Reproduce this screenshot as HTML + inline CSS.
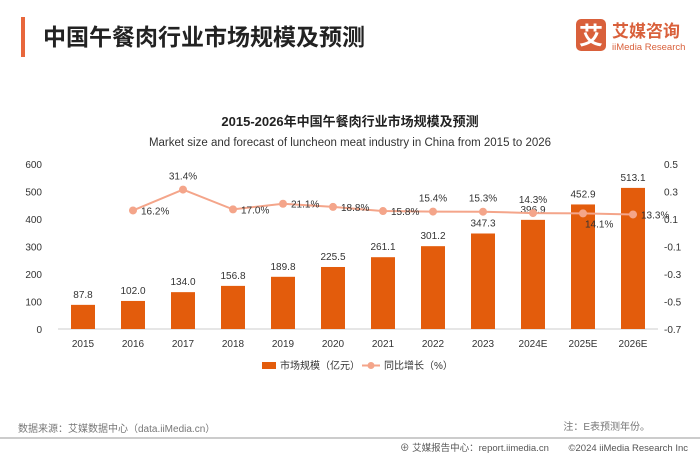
<!DOCTYPE html>
<html><head><meta charset="utf-8"><style>
body{margin:0;width:700px;height:455px;background:#fff;overflow:hidden;font-family:"Liberation Sans","Noto Sans CJK SC",sans-serif;}
</style></head><body>
<svg width="700" height="455" xmlns="http://www.w3.org/2000/svg" font-family="Liberation Sans, Noto Sans CJK SC, sans-serif">
<rect x="21" y="17" width="4" height="40" fill="#e8673c"/>
<text x="43" y="45" font-size="23" font-weight="bold" fill="#222">中国午餐肉行业市场规模及预测</text>
<g>
<rect x="576" y="19" width="30" height="32" rx="5" fill="#d9603b"/>
<text x="591" y="44" font-size="24" font-weight="bold" fill="#fff" text-anchor="middle">艾</text>
<text x="612" y="37" font-size="17" font-weight="bold" fill="#d9603b">艾媒咨询</text>
<text x="612" y="50" font-size="9.5" fill="#d9603b">iiMedia Research</text>
</g>
<text x="350" y="126" font-size="13" font-weight="bold" text-anchor="middle" fill="#222">2015-2026年中国午餐肉行业市场规模及预测</text>
<text x="350" y="146" font-size="11.5" text-anchor="middle" fill="#333">Market size and forecast of luncheon meat industry in China from 2015 to 2026</text>
<g id="chart"></g>
<g>
<rect x="262" y="362" width="14" height="7" fill="#e35c0c"/>
<text x="280" y="369" font-size="10" fill="#333">市场规模（亿元）</text>
<line x1="362" y1="365.5" x2="380" y2="365.5" stroke="#f4a58a" stroke-width="2"/>
<circle cx="371" cy="365.5" r="3.5" fill="#f4a58a"/>
<text x="384" y="369" font-size="10" fill="#333">同比增长（%）</text>
</g>
<text x="18" y="432" font-size="10" fill="#777">数据来源：艾媒数据中心（data.iiMedia.cn）</text>
<text x="650" y="430" font-size="10" fill="#777" text-anchor="end">注：E表预测年份。</text>
<line x1="0" y1="438" x2="700" y2="438" stroke="#999" stroke-width="1"/>
<text x="400" y="451" font-size="9.5" fill="#555">⊕ 艾媒报告中心：report.iimedia.cn</text>
<text x="688" y="451" font-size="9.5" fill="#555" text-anchor="end">©2024  iiMedia Research  Inc</text>
</svg>
<script>
const categories=["2015","2016","2017","2018","2019","2020","2021","2022","2023","2024E","2025E","2026E"];
const marketSize=[87.8,102.0,134.0,156.8,189.8,225.5,261.1,301.2,347.3,396.9,452.9,513.1];
const growth=[null,0.162,0.314,0.170,0.211,0.188,0.158,0.154,0.153,0.143,0.141,0.133];
const leftTicks=[0,100,200,300,400,500,600];
const rightTicks=[-0.7,-0.5,-0.3,-0.1,0.1,0.3,0.5];
const labelPlace=["","r","t","r","r","r","r","t","t","t","br","r"];
const NS="http://www.w3.org/2000/svg";
const chartG=document.getElementById('chart');
const plotTop=164,plotBot=329,x0=58,x1=658;
const yL=v=>plotBot-(v/600)*(plotBot-plotTop);
const yR=v=>plotBot-((v+0.7)/1.2)*(plotBot-plotTop);
const xC=i=>83+i*50;
function mk(t,a){const e=document.createElementNS(NS,t);for(const k in a)e.setAttribute(k,a[k]);chartG.appendChild(e);return e;}
let ax=mk('line',{x1:x0,y1:plotBot,x2:x1,y2:plotBot,stroke:'#ccc'});


leftTicks.forEach(v=>{let t=mk('text',{x:42,y:yL(v)+4,'font-size':10,'text-anchor':'end',fill:'#333'});t.textContent=v;

});
rightTicks.forEach(v=>{let t=mk('text',{x:664,y:yR(v)+4,'font-size':10,fill:'#333'});t.textContent=v.toFixed(1);

});
categories.forEach((c,i)=>{
let t=mk('text',{x:xC(i),y:347,'font-size':10,'text-anchor':'middle',fill:'#333'});t.textContent=c;


let b=mk('rect',{x:xC(i)-12,y:yL(marketSize[i]),width:24,height:plotBot-yL(marketSize[i]),fill:'#e35c0c'});


let l=mk('text',{x:xC(i),y:yL(marketSize[i])-7,'font-size':10,'text-anchor':'middle',fill:'#333'});l.textContent=marketSize[i].toFixed(1);


});
let pts=[];growth.forEach((v,i)=>{if(v!==null)pts.push([xC(i),yR(v)]);});
let pl=mk('polyline',{points:pts.map(p=>p.join(',')).join(' '),fill:'none',stroke:'#f4a58a','stroke-width':2});


growth.forEach((v,i)=>{if(v===null)return;
let c=mk('circle',{cx:xC(i),cy:yR(v),r:4,fill:'#f4a58a'});


let p=labelPlace[i],x=xC(i),y=yR(v),a={'font-size':10,fill:'#333'};
if(p==='r'){a.x=x+8;a.y=y+4;}else if(p==='t'){a.x=x;a.y=y-10;a['text-anchor']='middle';}else{a.x=x+2;a.y=y+14;}
let t=mk('text',a);t.textContent=(v*100).toFixed(1)+'%';


});
</script>
</body></html>
